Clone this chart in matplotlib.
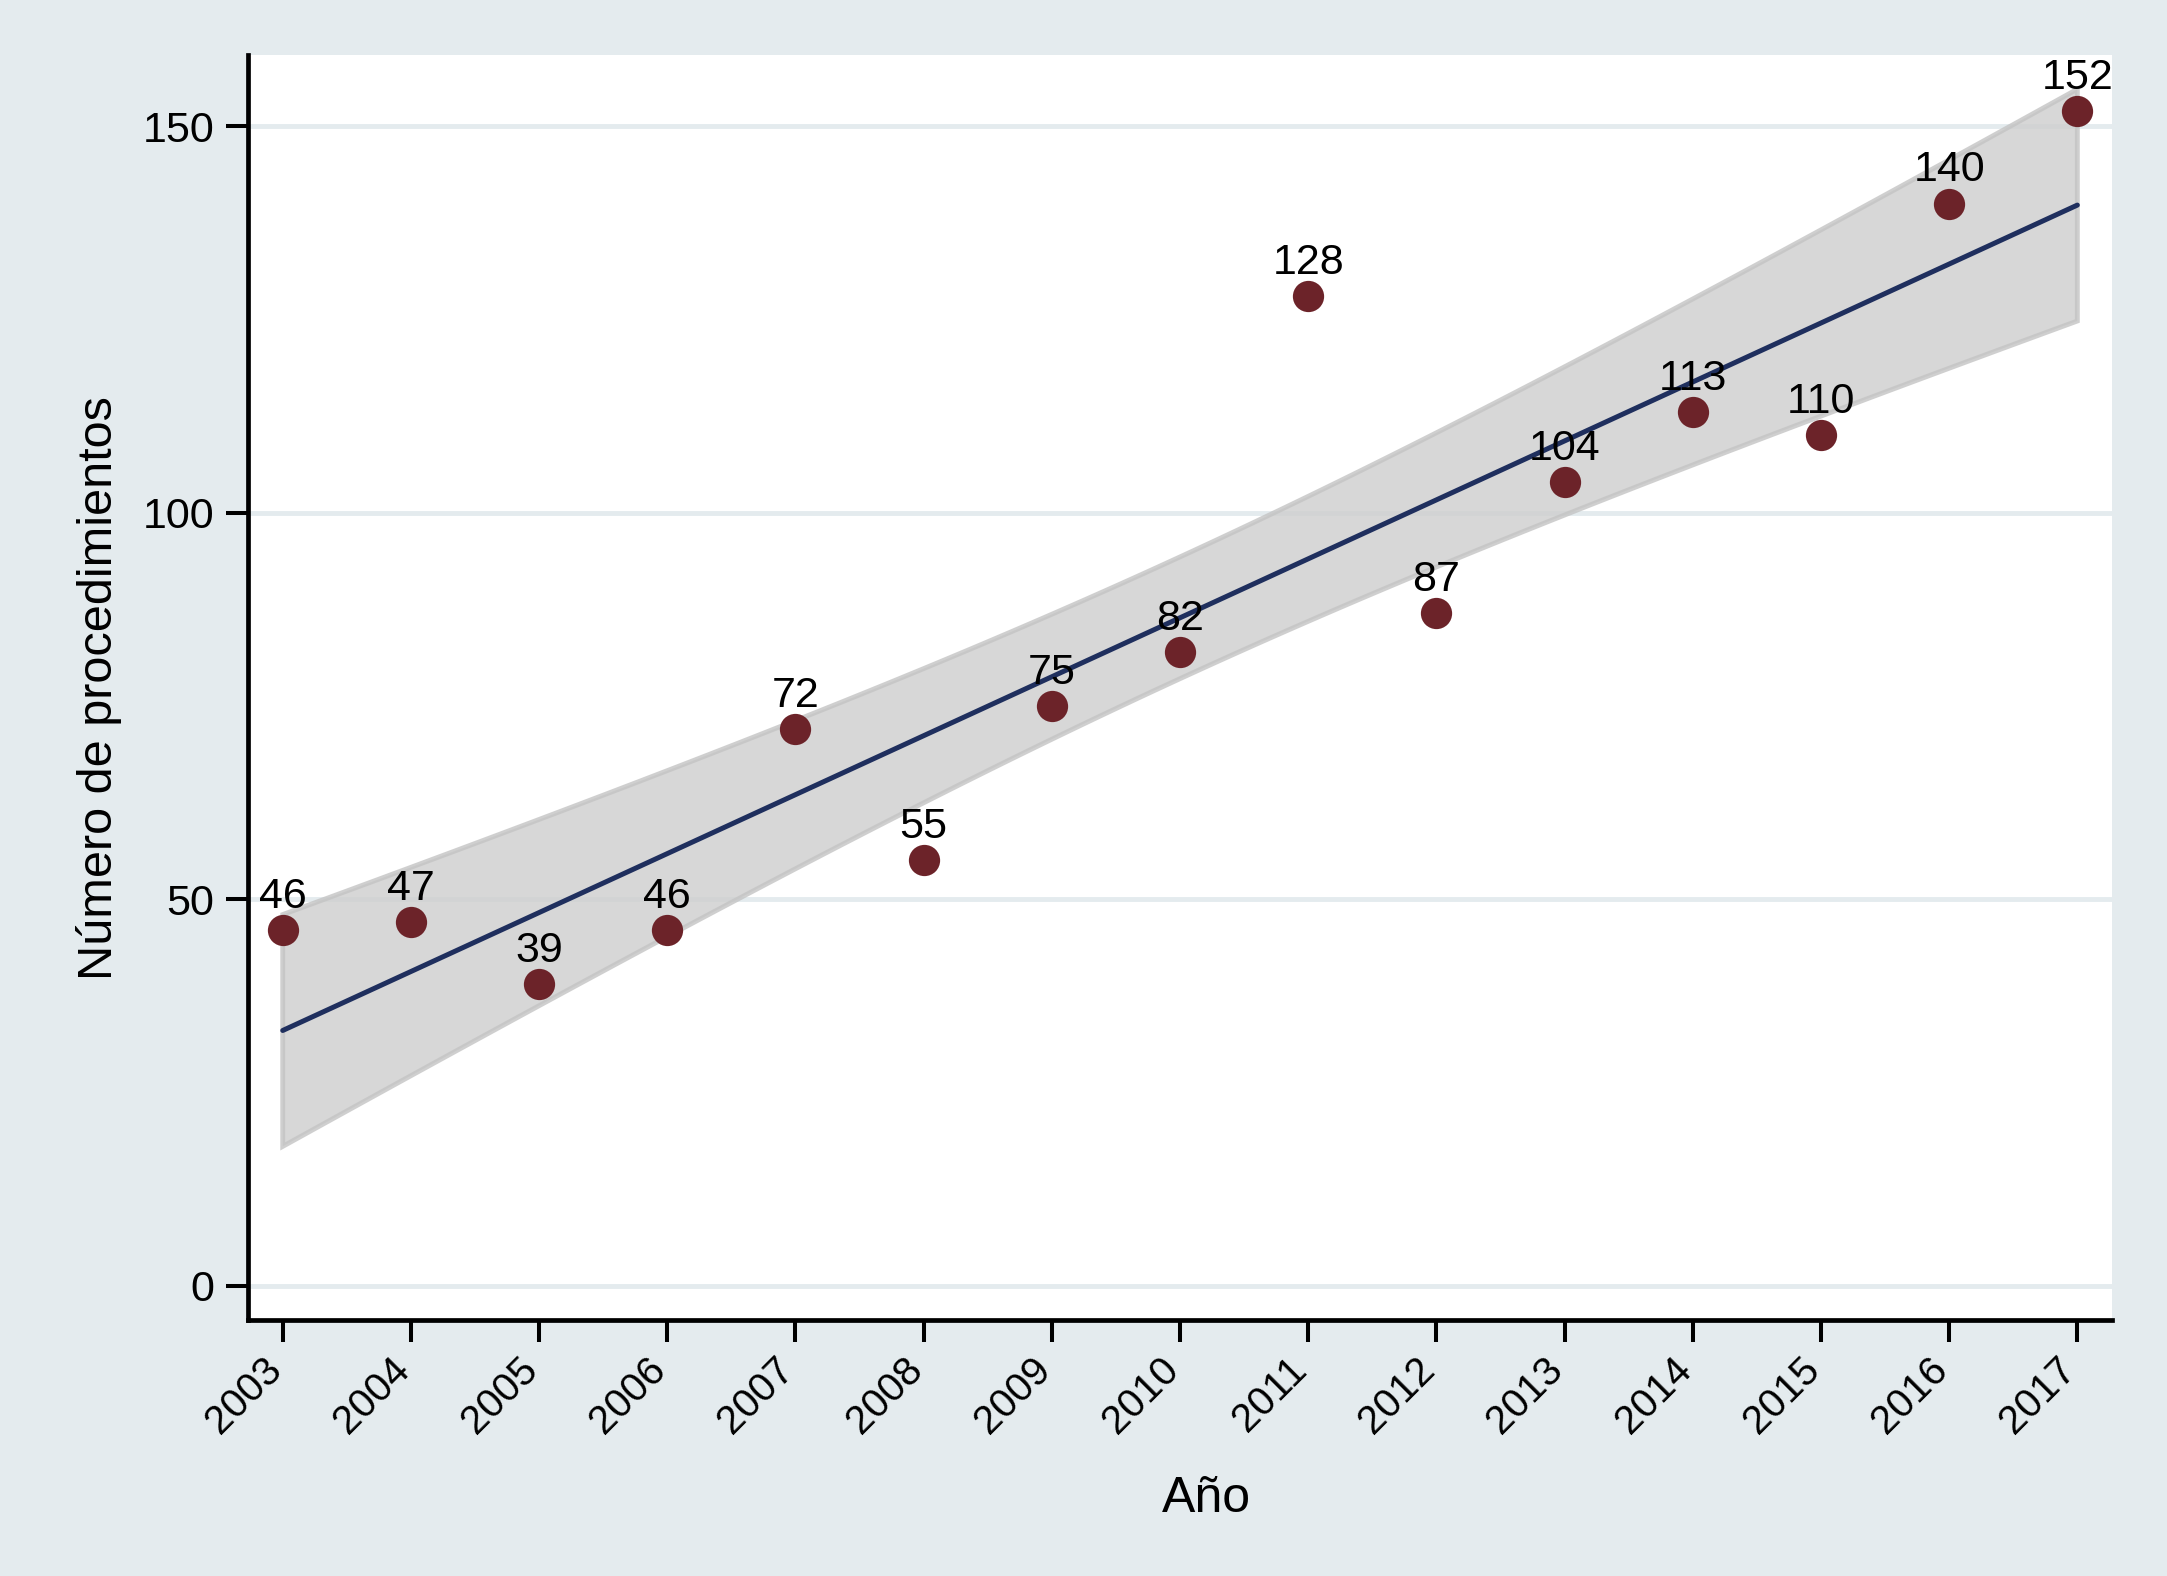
import numpy as np
import matplotlib.pyplot as plt
import matplotlib.transforms as mtransforms

plt.rcParams['font.family'] = ['Liberation Sans', 'DejaVu Sans']

# procedimientos por año
years = np.array([2003, 2004, 2005, 2006, 2007, 2008, 2009, 2010,
                  2011, 2012, 2013, 2014, 2015, 2016, 2017])
counts = np.array([46, 47, 39, 46, 72, 55, 75, 82,
                   128, 87, 104, 113, 110, 140, 152])
yticks = [0, 50, 100, 150]

# ajuste lineal con IC 95% (como lfitci de Stata)
n = len(years)
slope, intercept = np.polyfit(years, counts, 1)
resid = counts - (intercept + slope * years)
s = np.sqrt(np.sum(resid ** 2) / (n - 2))
t_crit = 2.1604  # t(0.975, 13)
xx = np.linspace(years.min(), years.max(), 200)
fit = intercept + slope * xx
se = s * np.sqrt(1.0 / n + (xx - years.mean()) ** 2 / np.sum((years - years.mean()) ** 2))
lo = fit - t_crit * se
hi = fit + t_crit * se

bg = '#e4ebee'
fig = plt.figure(figsize=(21.67, 15.76), dpi=100, facecolor=bg)
ax = fig.add_axes([0.1145, 0.1624, 0.8601, 0.8026])
ax.set_facecolor('white')

for yt in yticks:
    ax.axhline(yt, color=bg, lw=3.5, zorder=0)

ax.fill(np.concatenate([xx, xx[::-1]]), np.concatenate([lo, hi[::-1]]),
        facecolor='#cecece', alpha=0.8, edgecolor='#c4c4c4', lw=3.5, zorder=1)
ax.plot(xx, fit, color='#1f2f5e', lw=3.6, zorder=3, solid_capstyle='round')
ax.scatter(years, counts, s=22.5 ** 2, color='#6c2329', zorder=4, linewidths=0)

for x, y in zip(years, counts):
    ax.annotate(str(y), (x, y), xytext=(0, 16), textcoords='offset points',
                ha='center', va='baseline', fontsize=31, zorder=5)

ax.set_xlim(2002.73, 2017.27)
ax.set_ylim(-4.47, 159.2)
ax.set_xticks(years)
ax.set_xticklabels([str(y) for y in years], rotation=45, ha='right')
ax.set_yticks(yticks)
ax.tick_params(axis='both', labelsize=31, length=15.5, width=2.9, direction='out')
ax.tick_params(axis='x', labelsize=29, pad=6)
ax.tick_params(axis='y', pad=9)

# labels del eje x un poco a la derecha, como en Stata
shift = mtransforms.ScaledTranslation(6 / 100, 0, fig.dpi_scale_trans)
for lab in ax.get_xticklabels():
    lab.set_transform(lab.get_transform() + shift)

for side in ['top', 'right']:
    ax.spines[side].set_visible(False)
for side in ['left', 'bottom']:
    ax.spines[side].set_linewidth(3.4)
    ax.spines[side].set_color('black')

ax.set_ylabel('Número de procedimientos', fontsize=35)
ax.yaxis.set_label_coords(-0.0676, 0.5)
ax.set_xlabel('Año', fontsize=36, va='baseline')
ax.xaxis.set_label_coords(0.514, -0.1518)

fig.savefig('out.png', dpi=100, facecolor=bg)
